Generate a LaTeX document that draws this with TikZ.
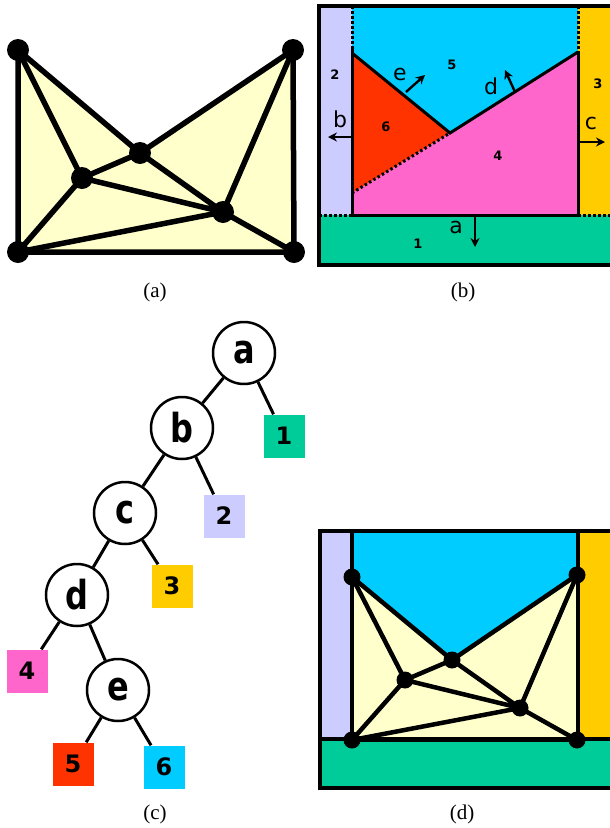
\documentclass[tikz,border=0pt]{standalone}
\usepackage{fontspec}
\setmainfont{Liberation Serif}
\newfontfamily\labfont{DejaVu Sans}
\newfontfamily\treefont[FakeStretch=0.8]{DejaVu Sans}
\usetikzlibrary{arrows.meta}
\definecolor{cyanR}{HTML}{00CCFF}
\definecolor{lavR}{HTML}{CCCCFF}
\definecolor{orR}{HTML}{FFCC00}
\definecolor{grR}{HTML}{00CC99}
\definecolor{redR}{HTML}{FF3300}
\definecolor{pinkR}{HTML}{FF66CC}
\definecolor{yelR}{HTML}{FFFFCC}
\begin{document}
\begin{tikzpicture}[x=1pt,y=-1pt,
  vdot/.style={circle,inner sep=0pt,minimum size=22pt},
  vdotd/.style={circle,inner sep=0pt,minimum size=17pt},
  edgeA/.style={line width=5.5pt,line cap=round},
  edgeD/.style={line width=4.5pt,line cap=round},
  solidB/.style={line width=3pt},
  dotB/.style={line width=3pt,dash pattern=on 2.5pt off 2.5pt},
  normarrow/.style={line width=2.4pt,-{Stealth[length=9pt,width=9pt]}},
  bletter/.style={font=\labfont\fontsize{22}{22}\selectfont,inner sep=0pt},
  bnum/.style={font=\labfont\fontsize{13}{13}\selectfont\bfseries,inner sep=0pt},
  tnode/.style={circle,draw,line width=2.5pt,minimum size=62pt,inner sep=0pt,font=\treefont\fontsize{40}{40}\selectfont\bfseries},
  tbox/.style={rectangle,minimum width=41pt,minimum height=43pt,inner sep=0pt,font=\labfont\fontsize{24}{24}\selectfont\bfseries},
  tedge/.style={line width=3pt},
  caption/.style={font=\fontsize{21}{21}\selectfont,inner sep=0pt}
]
\useasboundingbox (0,0) rectangle (610,828);
\clip (0,0) rectangle (610,828);

% ---------- (a) ----------
\node[vdot] (aTL) at (18,50) {};
\node[vdot] (aTR) at (293,50) {};
\node[vdot] (aBL) at (18,252) {};
\node[vdot] (aBR) at (294,252) {};
\node[vdot] (aC) at (140,153) {};
\node[vdot] (aL) at (82,178) {};
\node[vdot] (aR) at (223,212) {};
\fill[yelR] (aTL.center) -- (aC.center) -- (aTR.center) -- (aBR.center) -- (aBL.center) -- cycle;
\draw[edgeA] (aTL.center) -- (aBL.center) -- (aBR.center) -- (aTR.center);
\draw[edgeA] (aTL.center) -- (aC.center) -- (aTR.center);
\draw[edgeA] (aTL.center) -- (aL.center) -- (aBL.center);
\draw[edgeA] (aC.center) -- (aL.center) -- (aR.center) -- (aC.center);
\draw[edgeA] (aBL.center) -- (aR.center) -- (aTR.center);
\draw[edgeA] (aR.center) -- (aBR.center);
\foreach \v in {aTL,aTR,aBL,aBR,aC,aL,aR} \fill (\v.center) circle (11pt);

% ---------- (b) ----------
\fill[cyanR] (352,6) rectangle (578,215);
\fill[lavR] (319,6) rectangle (352,215);
\fill[orR] (578,6) rectangle (620,215);
\fill[grR] (319,215) rectangle (620,265);
\coordinate (bV1) at (352,53);
\coordinate (bV2) at (450,133);
\coordinate (bV3) at (578,52);
\coordinate (bD) at (352,193);
\coordinate (bBL) at (352,215);
\coordinate (bBR) at (578,215);
\fill[redR] (bV1) -- (bV2) -- (bD) -- cycle;
\fill[pinkR] (bD) -- (bV2) -- (bV3) -- (bBR) -- (bBL) -- cycle;
\draw[solidB] (352,47) -- (bBL) -- (bBR) -- (bV3);
\draw[solidB,line join=miter] (bV1) -- (bV2) -- (bV3);
\draw[dotB] (352,6) -- (352,47);
\draw[dotB] (578,6) -- (bV3);
\draw[dotB] (319,215) -- (bBL);
\draw[dotB] (bBR) -- (620,215);
\draw[dotB] (bD) -- (bV2);
\draw[line width=4pt] (620,6) -- (319,6) -- (319,265) -- (620,265);
\coordinate (bAb) at (352,137); \coordinate (bAbt) at (328,137);
\coordinate (bAc) at (578,142); \coordinate (bAct) at (605,142);
\coordinate (bAa) at (475,215); \coordinate (bAat) at (475,247);
\coordinate (bAe) at (406,92); \coordinate (bAet) at (425,75);
\coordinate (bAd) at (515,92); \coordinate (bAdt) at (505,70);
\draw[normarrow] (bAb) -- (bAbt);
\draw[normarrow] (bAc) -- (bAct);
\draw[normarrow] (bAa) -- (bAat);
\draw[normarrow] (bAe) -- (bAet);
\draw[normarrow] (bAd) -- (bAdt);
\node[bletter] (lb) at (340,119) {b};
\node[bletter] (lc) at (591,123) {c};
\node[bletter] (la) at (456,227) {a};
\node[bletter] (le) at (400,74) {e};
\node[bletter] (ld) at (491,86) {d};
\node[bnum] (n2) at (335,75) {2};
\node[bnum] (n5) at (452,65) {5};
\node[bnum] (n3) at (598,84) {3};
\node[bnum] (n6) at (386,127) {6};
\node[bnum] (n4) at (498,156) {4};
\node[bnum] (n1) at (418,244) {1};

% ---------- (c) ----------
\node[tnode] (ta) at (244,353) {a};
\node[tnode] (tb) at (182,428) {b};
\node[tnode] (tc) at (125,513) {c};
\node[tnode] (td) at (77,595) {d};
\node[tnode] (te) at (118,690) {e};
\node[tbox,fill=grR] (t1) at (284,436) {1};
\node[tbox,fill=lavR] (t2) at (224,516) {2};
\node[tbox,fill=orR] (t3) at (172,586) {3};
\node[tbox,fill=pinkR] (t4) at (27,671) {4};
\node[tbox,fill=redR] (t5) at (73,764) {5};
\node[tbox,fill=cyanR] (t6) at (164,767) {6};
\draw[tedge] (ta) -- (tb);
\draw[tedge] (ta) -- (t1);
\draw[tedge] (tb) -- (tc);
\draw[tedge] (tb) -- (t2);
\draw[tedge] (tc) -- (td);
\draw[tedge] (tc) -- (t3);
\draw[tedge] (td) -- (t4);
\draw[tedge] (td) -- (te);
\draw[tedge] (te) -- (t5);
\draw[tedge] (te) -- (t6);

% ---------- (d) ----------
\fill[cyanR] (352,531) rectangle (578,739);
\fill[lavR] (320,531) rectangle (352,739);
\fill[orR] (578,531) rectangle (620,739);
\fill[grR] (320,739) rectangle (620,788);
\node[vdotd] (dTL) at (352,577) {};
\node[vdotd] (dTR) at (577,575) {};
\node[vdotd] (dBL) at (352,740) {};
\node[vdotd] (dBR) at (577,740) {};
\node[vdotd] (dC) at (452,660) {};
\node[vdotd] (dL) at (405,680) {};
\node[vdotd] (dR) at (520,708) {};
\fill[yelR] (dTL.center) -- (dC.center) -- (dTR.center) -- (578,739) -- (352,739) -- cycle;
\draw[line width=3.5pt] (352,531) -- (352,739);
\draw[line width=3.5pt] (578,531) -- (578,739);
\draw[line width=3.5pt] (320,739) -- (620,739);
\draw[line width=4pt] (620,531) -- (320,531) -- (320,788) -- (620,788);
\draw[edgeD] (dTL.center) -- (dC.center) -- (dTR.center);
\draw[edgeD] (dTL.center) -- (dL.center) -- (dBL.center);
\draw[edgeD] (dC.center) -- (dL.center) -- (dR.center) -- (dC.center);
\draw[edgeD] (dBL.center) -- (dR.center) -- (dTR.center);
\draw[edgeD] (dR.center) -- (dBR.center);
\draw[edgeD] (dBL.center) -- (dBR.center);
\foreach \v in {dTL,dTR,dBL,dBR,dC,dL,dR} \fill (\v.center) circle (8.5pt);

% ---------- captions ----------
\node[caption] (capa) at (155,292) {(a)};
\node[caption] (capb) at (463,292) {(b)};
\node[caption] (capc) at (155,814) {(c)};
\node[caption] (capd) at (462,814) {(d)};
\end{tikzpicture}
\end{document}
